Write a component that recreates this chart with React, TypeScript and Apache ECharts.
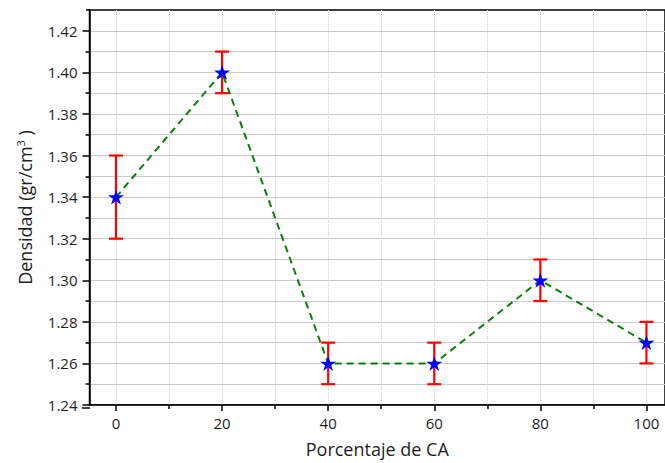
import React, { useEffect, useRef } from 'react';
import * as echarts from 'echarts';

const xValues = [0, 20, 40, 60, 80, 100];
const densidad = [1.34, 1.40, 1.26, 1.26, 1.30, 1.27];
const errores = [0.02, 0.01, 0.01, 0.01, 0.01, 0.01];
const xMajorTicks = [0, 20, 40, 60, 80, 100];
const xMinorTicks = [10, 30, 50, 70, 90];
const yMajorTicks = [1.24, 1.26, 1.28, 1.30, 1.32, 1.34, 1.36, 1.38, 1.40, 1.42];
const yMinorTicks = [1.25, 1.27, 1.29, 1.31, 1.33, 1.35, 1.37, 1.39, 1.41];

const STAR = 'path://M50 0 L61.17 34.63 L97.55 34.55 L68.07 55.87 L79.39 90.45 L50 69 L20.61 90.45 L31.93 55.87 L2.45 34.55 L38.83 34.63 Z';
const FONT = 'Open Sans';
const TXT = '#1e1e1e';

export default function App() {
  const ref = useRef<HTMLDivElement>(null);
  useEffect(() => {
    if (!ref.current) return;
    const chart = echarts.init(ref.current, null, { renderer: 'svg' });
    const xSplit = { show: true, lineStyle: { color: '#cfcfcf', type: 'dotted', width: 1 } };
    const ySplit = { show: true, lineStyle: { color: '#cbcbcb', type: 'solid', width: 1 } };
    const xRange = { min: -5, max: 103.5 };
    const yRange = { min: 1.24, max: 1.43 };
    chart.setOption({
      animation: false,
      grid: {
        left: 89.5, top: 10, right: -5, bottom: 55,
        show: true, borderColor: '#000', borderWidth: 1.5,
      },
      graphic: [
        { type: 'line', shape: { x1: 82, y1: 408, x2: 90, y2: 408 }, style: { stroke: '#000', lineWidth: 1.5 } },
        { type: 'line', shape: { x1: 86, y1: 10, x2: 90, y2: 10 }, style: { stroke: '#000', lineWidth: 1.5 } },
      ],
      xAxis: [
        {
          type: 'value', ...xRange, position: 'bottom',
          axisLine: { show: true, onZero: false, lineStyle: { color: '#000', width: 1.5 } },
          axisTick: { show: true, customValues: xMajorTicks, length: 6, lineStyle: { color: '#000', width: 1.5 } },
          axisLabel: { customValues: xMajorTicks, margin: 10, fontSize: 15, color: TXT, fontFamily: FONT },
          splitLine: xSplit,
          name: 'Porcentaje de CA', nameLocation: 'middle', nameGap: 35,
          nameTextStyle: { fontSize: 18, color: TXT, fontFamily: FONT },
        },
        {
          type: 'value', ...xRange, position: 'bottom',
          axisLine: { show: false, onZero: false },
          axisTick: { show: true, customValues: xMinorTicks, length: 4, lineStyle: { color: '#000', width: 1.5 } },
          axisLabel: { show: false, customValues: xMinorTicks },
          splitLine: xSplit,
        },
      ],
      yAxis: [
        {
          type: 'value', ...yRange, position: 'left',
          axisLine: { show: true, onZero: false, lineStyle: { color: '#000', width: 1.5 } },
          axisTick: { show: true, customValues: yMajorTicks, length: 7, lineStyle: { color: '#000', width: 1.5 } },
          axisLabel: {
            customValues: yMajorTicks, margin: 12, fontSize: 15, color: TXT, fontFamily: FONT,
            formatter: (v: number) => v.toFixed(2),
          },
          splitLine: ySplit,
          name: '{a|Densidad (gr/cm}{s|3}{a| )}', nameLocation: 'middle', nameGap: 54, nameRotate: 90,
          nameTextStyle: {
            color: TXT, fontFamily: FONT, fontSize: 18,
            rich: {
              a: { fontSize: 18, color: TXT, fontFamily: FONT },
              s: { fontSize: 11, color: TXT, fontFamily: FONT, verticalAlign: 'top', padding: [0, 0, 10, 0] },
            },
          },
        },
        {
          type: 'value', ...yRange, position: 'left',
          axisLine: { show: false, onZero: false },
          axisTick: { show: true, customValues: yMinorTicks, length: 4, lineStyle: { color: '#000', width: 1.5 } },
          axisLabel: { show: false, customValues: yMinorTicks },
          splitLine: ySplit,
        },
      ],
      series: [
        {
          type: 'custom',
          xAxisIndex: 0, yAxisIndex: 0,
          encode: { x: 0, y: [1, 2] },
          z: 2,
          data: xValues.map((x, i) => [x, densidad[i] - errores[i], densidad[i] + errores[i]]),
          renderItem: (params: any, api: any) => {
            const x = api.value(0);
            const pLo = api.coord([x, api.value(1)]);
            const pHi = api.coord([x, api.value(2)]);
            const hw = 7;
            const style = { stroke: '#ff0000', lineWidth: 2.2 };
            return {
              type: 'group',
              children: [
                { type: 'line', shape: { x1: pLo[0], y1: pLo[1], x2: pHi[0], y2: pHi[1] }, style },
                { type: 'line', shape: { x1: pLo[0] - hw, y1: pLo[1], x2: pLo[0] + hw, y2: pLo[1] }, style },
                { type: 'line', shape: { x1: pHi[0] - hw, y1: pHi[1], x2: pHi[0] + hw, y2: pHi[1] }, style },
              ],
            };
          },
        },
        {
          type: 'line',
          xAxisIndex: 0, yAxisIndex: 0,
          z: 3,
          data: xValues.map((x, i) => [x, densidad[i]]),
          lineStyle: { color: '#0a7f0a', width: 2, type: [7, 5] },
          symbol: STAR,
          symbolSize: [16, 15],
          itemStyle: { color: '#0000ff' },
        },
      ],
    });
    return () => chart.dispose();
  }, []);
  return <div ref={ref} style={{ width: 665, height: 463, position: 'absolute', left: 0, top: 0 }} />;
}
